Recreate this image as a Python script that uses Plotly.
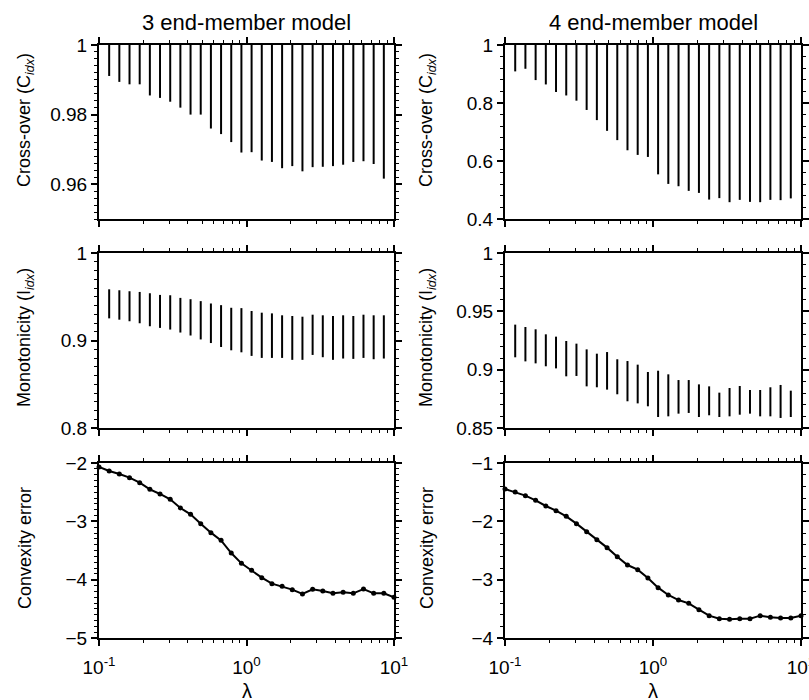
import plotly.graph_objects as go
from plotly.subplots import make_subplots

# lambda grid (30 log-spaced values from 0.1 to 10)
lam = [0.1, 0.11721, 0.13738, 0.16103, 0.18874, 0.22122, 0.25929, 0.30392,
       0.35622, 0.41753, 0.48939, 0.57362, 0.67234, 0.78805, 0.92367, 1.08264,
       1.26896, 1.48735, 1.74333, 2.04336, 2.39503, 2.80722, 3.29034, 3.85662,
       4.52035, 5.29832, 6.21017, 7.27895, 8.53168, 10.0]
lam_bar = lam[1:-1]  # range bars drawn at interior lambda values

# Cross-over index ranges
cross3_hi = [1.0, 1.0, 1.0, 1.0, 1.0, 1.0, 1.0, 1.0, 1.0, 1.0, 1.0, 1.0, 1.0, 1.0,
             1.0, 1.0, 1.0, 1.0, 1.0, 1.0, 1.0, 1.0, 1.0, 1.0, 1.0, 1.0, 1.0, 1.0]
cross3_lo = [0.9911, 0.9894, 0.9887, 0.9887, 0.9855, 0.9848, 0.9837, 0.9820, 0.9800,
             0.9800, 0.9760, 0.9744, 0.9721, 0.9691, 0.9692, 0.9668, 0.9664, 0.9646,
             0.9652, 0.9637, 0.9649, 0.9650, 0.9652, 0.9656, 0.9664, 0.9666, 0.9658, 0.9616]
cross4_hi = [1.0, 1.0, 1.0, 1.0, 1.0, 1.0, 1.0, 1.0, 1.0, 1.0, 1.0, 1.0, 1.0, 1.0,
             1.0, 1.0, 1.0, 1.0, 1.0, 1.0, 1.0, 1.0, 1.0, 1.0, 1.0, 1.0, 1.0, 1.0]
cross4_lo = [0.909, 0.918, 0.879, 0.864, 0.838, 0.826, 0.808, 0.776, 0.741, 0.704,
             0.672, 0.637, 0.621, 0.614, 0.554, 0.521, 0.513, 0.497, 0.490, 0.467,
             0.472, 0.458, 0.466, 0.459, 0.458, 0.466, 0.465, 0.471]

# Monotonicity index ranges
mono3_hi = [0.9585, 0.9574, 0.9563, 0.9555, 0.9540, 0.9521, 0.9517, 0.9487, 0.9472,
            0.9450, 0.9423, 0.9404, 0.9374, 0.9370, 0.9337, 0.9318, 0.9310, 0.9288,
            0.9280, 0.9272, 0.9295, 0.9288, 0.9280, 0.9288, 0.9280, 0.9295, 0.9288, 0.9288]
mono3_lo = [0.9253, 0.9238, 0.9220, 0.9197, 0.9163, 0.9144, 0.9125, 0.9091, 0.9057,
            0.9012, 0.8971, 0.8926, 0.8888, 0.8865, 0.8824, 0.8801, 0.8801, 0.8801,
            0.8779, 0.8779, 0.8835, 0.8809, 0.8779, 0.8794, 0.8790, 0.8801, 0.8786, 0.8794]
mono4_hi = [0.9386, 0.9366, 0.9346, 0.9303, 0.9283, 0.9246, 0.9223, 0.9174, 0.9137,
            0.9151, 0.9089, 0.9074, 0.9043, 0.8980, 0.8991, 0.8960, 0.8911, 0.8911,
            0.8874, 0.8857, 0.8803, 0.8843, 0.8860, 0.8826, 0.8826, 0.8849, 0.8869, 0.8820]
mono4_lo = [0.9106, 0.9071, 0.9054, 0.9029, 0.9011, 0.8943, 0.8946, 0.8857, 0.8849,
            0.8829, 0.8789, 0.8729, 0.8711, 0.8686, 0.8594, 0.8600, 0.8623, 0.8629,
            0.8594, 0.8609, 0.8594, 0.8600, 0.8614, 0.8623, 0.8600, 0.8600, 0.8586, 0.8594]

# Convexity error
conv3 = [-2.069, -2.137, -2.189, -2.251, -2.337, -2.451, -2.531, -2.623, -2.771, -2.880,
         -3.040, -3.194, -3.326, -3.543, -3.720, -3.840, -3.966, -4.069, -4.114, -4.171,
         -4.246, -4.166, -4.194, -4.234, -4.217, -4.234, -4.160, -4.234, -4.234, -4.303]
conv4 = [-1.446, -1.497, -1.560, -1.640, -1.737, -1.817, -1.914, -2.040, -2.177, -2.314,
         -2.451, -2.606, -2.749, -2.829, -2.971, -3.137, -3.263, -3.349, -3.406, -3.514,
         -3.617, -3.669, -3.680, -3.669, -3.669, -3.617, -3.646, -3.657, -3.657, -3.617]

col_titles = ["3 end-member model", "4 end-member model"]
x_tickvals = [0.1, 1, 10]
x_ticktext = ["10<sup>-1</sup>", "10<sup>0</sup>", "10<sup>1</sup>"]
x_minor = [0.2, 0.3, 0.4, 0.5, 0.6, 0.7, 0.8, 0.9, 2, 3, 4, 5, 6, 7, 8, 9]

W, H = 809, 700
FONT = "Liberation Sans, Arial, Helvetica, sans-serif"

fig = make_subplots(rows=3, cols=2)


def range_bars(xs, lo, hi):
    bx, by = [], []
    for x, a, b in zip(xs, lo, hi):
        bx += [x, x, None]
        by += [a, b, None]
    return bx, by


panels = [
    (1, 1, cross3_lo, cross3_hi), (1, 2, cross4_lo, cross4_hi),
    (2, 1, mono3_lo, mono3_hi), (2, 2, mono4_lo, mono4_hi),
]
for r, c, lo, hi in panels:
    bx, by = range_bars(lam_bar, lo, hi)
    fig.add_trace(go.Scatter(x=bx, y=by, mode="lines",
                             line=dict(color="black", width=2),
                             cliponaxis=False, showlegend=False,
                             hoverinfo="skip"), row=r, col=c)

for c, vals in [(1, conv3), (2, conv4)]:
    fig.add_trace(go.Scatter(x=lam, y=vals, mode="lines+markers",
                             line=dict(color="black", width=2),
                             marker=dict(color="black", size=5),
                             cliponaxis=False, showlegend=False), row=3, col=c)

# layout geometry (pixels)
xdom = {1: (99, 394), 2: (505, 801)}
ydom = {1: (45, 219), 2: (253, 428), 3: (463, 638)}

yspec = {
    (1, 1): dict(range=[0.95, 1], tickvals=[0.96, 0.98, 1], ticktext=["0.96", "0.98", "1"], minor=0.002),
    (1, 2): dict(range=[0.4, 1], tickvals=[0.4, 0.6, 0.8, 1], ticktext=["0.4", "0.6", "0.8", "1"], minor=0.04),
    (2, 1): dict(range=[0.8, 1], tickvals=[0.8, 0.9, 1], ticktext=["0.8", "0.9", "1"], minor=0.01),
    (2, 2): dict(range=[0.85, 1], tickvals=[0.85, 0.9, 0.95, 1], ticktext=["0.85", "0.9", "0.95", "1"], minor=0.01),
    (3, 1): dict(range=[-5, -2], tickvals=[-5, -4, -3, -2], ticktext=["\u22125", "\u22124", "\u22123", "\u22122"], minor=0.1),
    (3, 2): dict(range=[-4, -1], tickvals=[-4, -3, -2, -1], ticktext=["\u22124", "\u22123", "\u22122", "\u22121"], minor=0.2),
}

for r in (1, 2, 3):
    for c in (1, 2):
        x0, x1 = xdom[c]
        y0, y1 = ydom[r]
        fig.update_xaxes(
            type="log", range=[-1, 1], domain=[x0 / W, x1 / W],
            showline=True, linewidth=2, linecolor="black", mirror="ticks",
            ticks="outside", ticklen=6, tickwidth=1.5, tickcolor="black",
            tickvals=x_tickvals, ticktext=x_ticktext,
            showticklabels=(r == 3), showgrid=False, zeroline=False,
            tickfont=dict(size=19, color="black", family=FONT),
            ticklabeloverflow="allow", ticklabelstandoff=5,
            minor=dict(tickvals=x_minor, ticks="outside", ticklen=3,
                       tickwidth=1.2, tickcolor="black", showgrid=False),
            automargin=False,
            row=r, col=c)
        s = yspec[(r, c)]
        fig.update_yaxes(
            range=s["range"], domain=[1 - y1 / H, 1 - y0 / H],
            showline=True, linewidth=2, linecolor="black", mirror="ticks",
            ticks="outside", ticklen=6, tickwidth=1.5, tickcolor="black",
            tickmode="array", tickvals=s["tickvals"], ticktext=s["ticktext"],
            showgrid=False, zeroline=False,
            tickfont=dict(size=19, color="black", family=FONT),
            ticklabeloverflow="allow",
            minor=dict(dtick=s["minor"], tick0=0, ticks="outside", ticklen=3,
                       tickwidth=1.2, tickcolor="black", showgrid=False),
            automargin=False,
            row=r, col=c)

annotations = []
for c in (1, 2):
    xc = (xdom[c][0] + xdom[c][1]) / 2
    annotations.append(dict(text=col_titles[c - 1], x=xc / W, y=1 - 22 / H,
                            xref="paper", yref="paper", showarrow=False,
                            xanchor="center", yanchor="middle",
                            font=dict(size=22, color="black", family=FONT)))
    annotations.append(dict(text="\u03bb", x=xc / W, y=1 - 691 / H,
                            xref="paper", yref="paper", showarrow=False,
                            xanchor="center", yanchor="middle",
                            font=dict(size=20, color="black", family=FONT)))

ytitles = [
    (1, "Cross-over (C<sub><i>idx</i></sub>)", 120),
    (2, "Monotonicity (I<sub><i>idx</i></sub>)", 338),
    (3, "Convexity error", 548),
]
xt = {1: 25, 2: 427}
for c in (1, 2):
    for r, txt, yc in ytitles:
        annotations.append(dict(text=txt, x=xt[c] / W, y=1 - yc / H,
                                xref="paper", yref="paper", showarrow=False,
                                textangle=-90, xanchor="center", yanchor="middle",
                                font=dict(size=18, color="black", family=FONT)))

fig.update_layout(
    width=W, height=H, margin=dict(l=0, r=0, t=0, b=0),
    paper_bgcolor="white", plot_bgcolor="white",
    font=dict(family=FONT, color="black", size=18),
    annotations=annotations, showlegend=False,
)

fig.write_html("out.html")
